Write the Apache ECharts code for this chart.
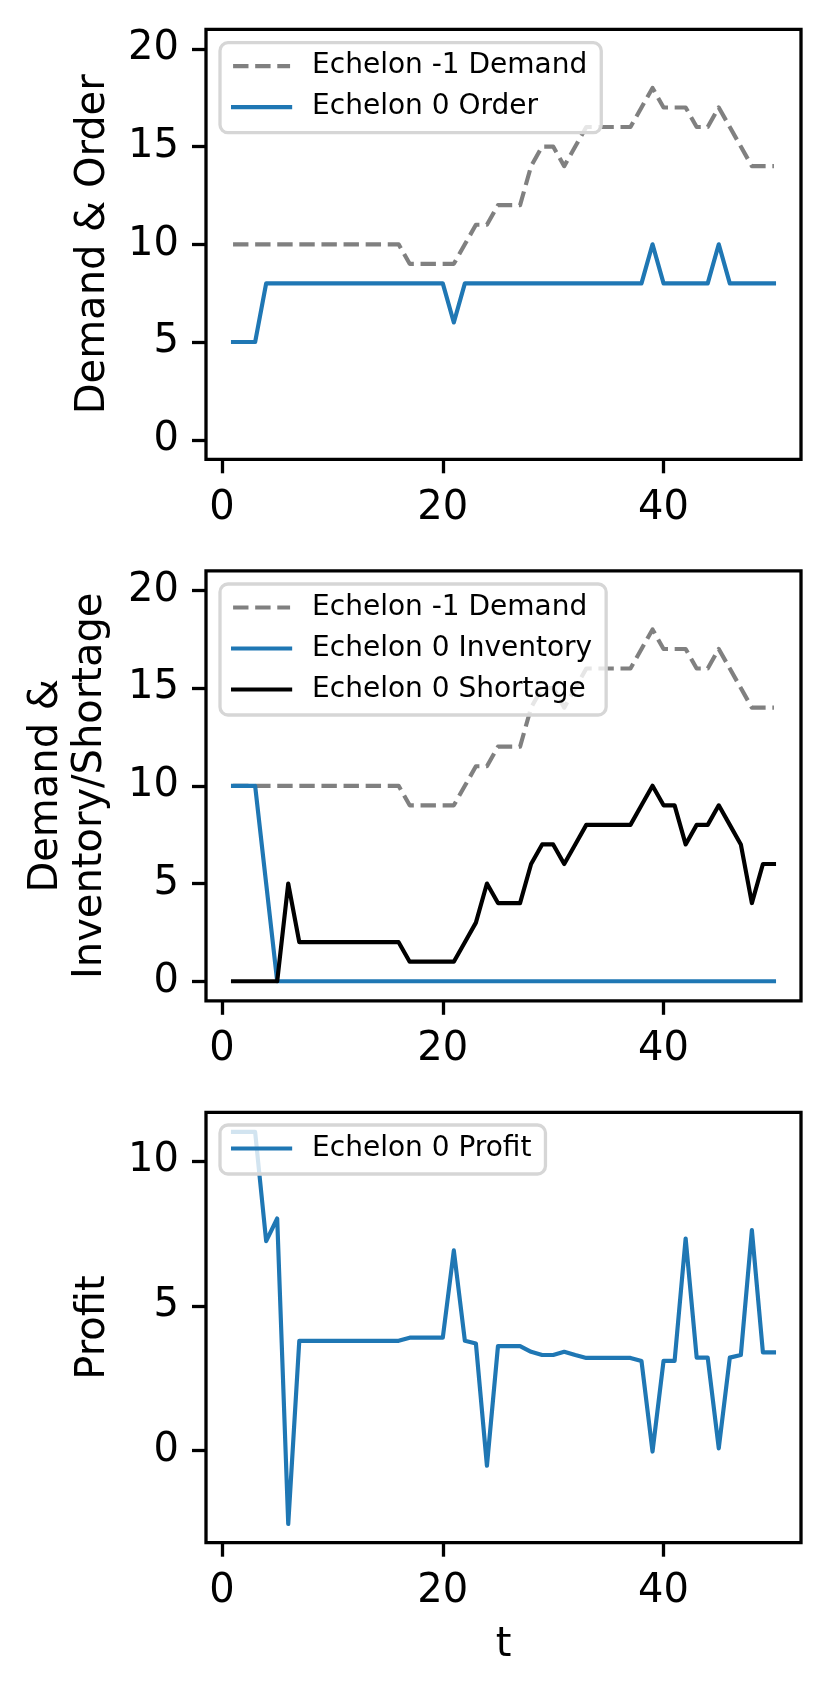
<!DOCTYPE html>
<html>
<head>
<meta charset="utf-8">
<script src="https://cdn.jsdelivr.net/npm/echarts@6/dist/echarts.min.js"></script>
<style>
  html, body { margin: 0; padding: 0; background: #fff; }
  #chart { width: 830px; height: 1693px; }
</style>
</head>
<body>
<div id="chart"></div>
<script>
// time steps
var t = [1,2,3,4,5,6,7,8,9,10,11,12,13,14,15,16,17,18,19,20,21,22,23,24,25,
         26,27,28,29,30,31,32,33,34,35,36,37,38,39,40,41,42,43,44,45,46,47,48,49,50];

var demand = [10,10,10,10,10,10,10,10,10,10,10,10,10,10,10,10,9,9,9,9,9,10,11,11,12,
              12,12,14,15,15,14,15,16,16,16,16,16,17,18,17,17,17,16,16,17,16,15,14,14,14];
var order = [5,5,5,8,8,8,8,8,8,8,8,8,8,8,8,8,8,8,8,8,6,8,8,8,8,
             8,8,8,8,8,8,8,8,8,8,8,8,8,10,8,8,8,8,8,10,8,8,8,8,8];
var inventory = [10,10,10,5,0,0,0,0,0,0,0,0,0,0,0,0,0,0,0,0,0,0,0,0,0,
                 0,0,0,0,0,0,0,0,0,0,0,0,0,0,0,0,0,0,0,0,0,0,0,0,0];
var shortage = [0,0,0,0,0,5,2,2,2,2,2,2,2,2,2,2,1,1,1,1,1,2,3,5,4,
                4,4,6,7,7,6,7,8,8,8,8,8,9,10,9,9,7,8,8,9,8,7,4,6,6];
var profit = [11,11,11,7.23,8.01,-2.53,3.79,3.79,3.79,3.79,3.79,3.79,3.79,3.79,3.79,3.79,3.9,3.9,3.9,3.9,6.91,3.79,3.7,-0.52,3.61,
              3.61,3.61,3.41,3.3,3.3,3.41,3.3,3.2,3.2,3.2,3.2,3.2,3.09,-0.03,3.1,3.1,7.32,3.21,3.21,0.08,3.21,3.3,7.61,3.39,3.39];

var xTicks = [0, 20, 40];
var yTicksDemand = [0, 5, 10, 15, 20];
var yTicksProfit = [0, 5, 10];

var FONT = 'DejaVu Sans';
var BLUE = '#1f77b4';

function pairs(ys) {
    return t.map(function (x, i) { return [x, ys[i]]; });
}

var grids = [
    {left: 206, width: 595, top: 29.3, height: 430},
    {left: 206, width: 595, top: 570.8, height: 430},
    {left: 206, width: 595, top: 1112.3, height: 430.4}
];
grids.forEach(function (g) {
    g.show = true;
    g.borderColor = '#000';
    g.borderWidth = 3.3;
    g.backgroundColor = 'transparent';
});

function xAxis(i, name) {
    return {
        type: 'value', gridIndex: i, min: -1.45, max: 52.45,
        name: name || '', nameLocation: 'middle', nameGap: 83,
        nameTextStyle: {fontSize: 40, color: '#000', fontFamily: FONT},
        axisLine: {show: false, onZero: false},
        axisTick: {show: true, customValues: xTicks, length: 14, lineStyle: {color: '#000', width: 3.3}},
        axisLabel: {customValues: xTicks, fontSize: 40, color: '#000', fontFamily: FONT, margin: 29},
        splitLine: {show: false}
    };
}

function yAxis(i, name, min, max, ticks, gap) {
    return {
        type: 'value', gridIndex: i, min: min, max: max,
        name: name, nameLocation: 'middle', nameGap: gap, nameRotate: 90,
        nameTextStyle: {fontSize: 40, color: '#000', fontFamily: FONT, lineHeight: 44, align: 'center'},
        axisLine: {show: false, onZero: false},
        axisTick: {show: true, customValues: ticks, length: 14, lineStyle: {color: '#000', width: 3.3}},
        axisLabel: {customValues: ticks, fontSize: 40, color: '#000', fontFamily: FONT, margin: 27},
        splitLine: {show: false}
    };
}

function legend(top, names) {
    return {
        orient: 'vertical', left: 220, top: top,
        data: names, selectedMode: false,
        itemWidth: 57, itemHeight: 14, itemGap: 0,
        padding: [3, 14, 5, 11],
        backgroundColor: 'rgba(255,255,255,0.8)',
        borderColor: '#d6d6d6', borderWidth: 3.3, borderRadius: 8,
        itemStyle: {opacity: 0},
        lineStyle: {opacity: 1, width: 4.17},
        textStyle: {fontSize: 28, color: '#000', fontFamily: FONT, lineHeight: 41, padding: [0, 0, 0, 17]}
    };
}

function line(name, i, ys, color, dashed) {
    return {
        name: name, type: 'line', xAxisIndex: i, yAxisIndex: i,
        data: pairs(ys), symbol: 'none', animation: false,
        lineStyle: {color: color, width: 4.17, type: dashed ? [15.4, 6.7] : 'solid', join: 'round', cap: dashed ? 'butt' : 'square'},
        itemStyle: {color: color}
    };
}

var chart = echarts.init(document.getElementById('chart'), null, {renderer: 'canvas'});
chart.setOption({
    animation: false,
    backgroundColor: '#fff',
    grid: grids,
    xAxis: [xAxis(0), xAxis(1), xAxis(2, 't')],
    yAxis: [
        yAxis(0, 'Demand & Order', -1, 21, yTicksDemand, 90),
        yAxis(1, 'Demand &\nInventory/Shortage', -1, 21, yTicksDemand, 93),
        yAxis(2, 'Profit', -3.175, 11.675, yTicksProfit, 90)
    ],
    legend: [
        legend(42.7, ['Echelon -1 Demand', 'Echelon 0 Order']),
        legend(584, ['Echelon -1 Demand', 'Echelon 0 Inventory', 'Echelon 0 Shortage']),
        legend(1125, ['Echelon 0 Profit'])
    ],
    series: [
        line('Echelon -1 Demand', 0, demand, '#808080', true),
        line('Echelon 0 Order', 0, order, BLUE, false),
        line('Echelon -1 Demand', 1, demand, '#808080', true),
        line('Echelon 0 Inventory', 1, inventory, BLUE, false),
        line('Echelon 0 Shortage', 1, shortage, '#000', false),
        line('Echelon 0 Profit', 2, profit, BLUE, false)
    ]
});
</script>
</body>
</html>
